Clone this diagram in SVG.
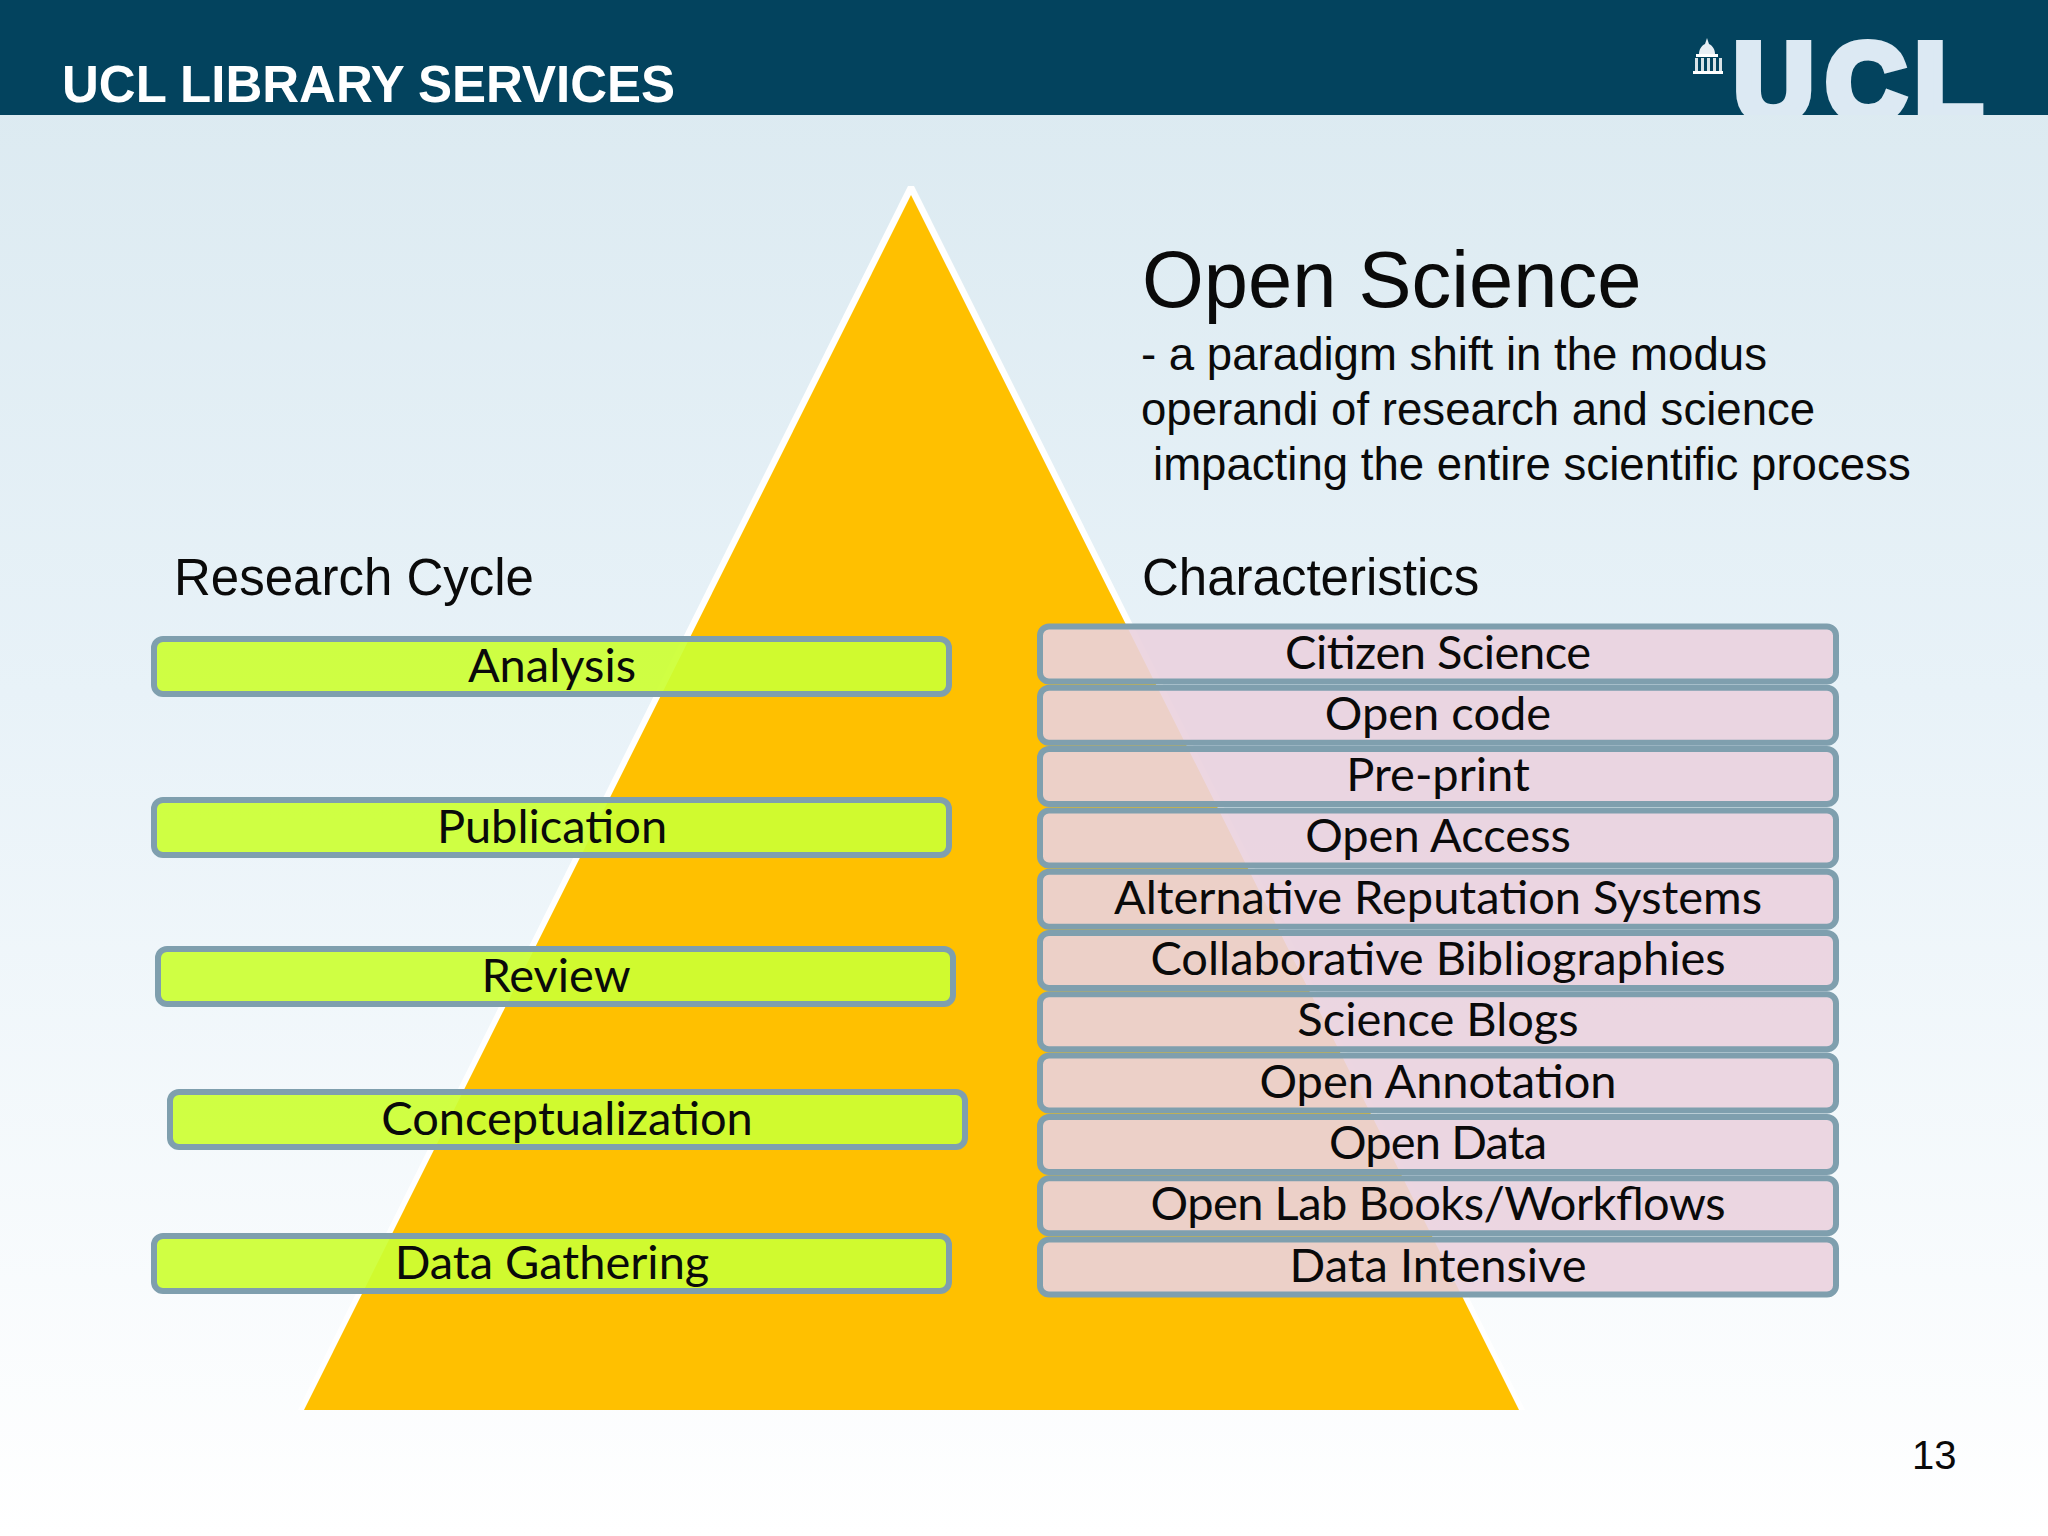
<svg xmlns="http://www.w3.org/2000/svg" width="2048" height="1536" viewBox="0 0 2048 1536">
<style>
.a{font-family:"Liberation Sans",Arial,sans-serif;fill:#0a0a0a}
.l{font-family:Lato,"Noto Sans",sans-serif;font-size:47px;fill:#0a0a0a;text-anchor:middle}
.g{fill:#ccff33;fill-opacity:.92;stroke:#7f9fae;stroke-width:6}
.p{fill:#ead1de;fill-opacity:.9;stroke:#7f9fae;stroke-width:6}
</style>
<defs>
<linearGradient id="bg" x1="0" y1="0" x2="0" y2="1"><stop offset="0" stop-color="#dae9f0"/><stop offset=".45" stop-color="#e8f2f8"/><stop offset="1" stop-color="#ffffff"/></linearGradient>
<clipPath id="hd"><rect x="0" y="0" width="2048" height="115"/></clipPath>
</defs>
<rect id="background" width="2048" height="1536" fill="url(#bg)"/>
<g id="header">
<rect width="2048" height="115" fill="#03435e"/>
<text class="a" x="62" y="102" font-size="51" font-weight="700" style="fill:#ffffff">UCL LIBRARY SERVICES</text>
<g id="logo" fill="#ffffff">
<path d="M1707 38l2 6c4 2 6 6 6 10h-16c0-4 2-8 6-10z" fill="#e8eff5"/>
<path d="M1696 54h22v3h-22z"/>
<path d="M1695 58h3v13h-3zM1701 58h3v13h-3zM1707 58h3v13h-3zM1713 58h3v13h-3zM1719 58h3v13h-3z" opacity=".85"/>
<path d="M1693 71h30v3h-30z"/>
</g>
<g clip-path="url(#hd)"><text x="1734 1826 1915" y="120" font-family="Liberation Sans,Arial,sans-serif" font-size="110" font-weight="700" fill="#dce9f3" stroke="#dce9f3" stroke-width="9" stroke-linejoin="miter">UCL</text></g>
</g>
<g id="pyramid"><polygon points="908,186 914,186 1525,1410 298,1410" fill="#ffffff"/><path d="M911 195L1519 1410H304Z" fill="#ffc000"/></g>
<g id="titles">
<text class="a" x="1142" y="307" font-size="79.5">Open Science</text>
<text class="a" x="1141" y="370" font-size="45.6">- a paradigm shift in the modus</text>
<text class="a" x="1141" y="425" font-size="45.6">operandi of research and science</text>
<text class="a" x="1153" y="480" font-size="45.6"> impacting the entire scientific process</text>
<text class="a" x="174" y="595" font-size="51">Research Cycle</text>
<text class="a" x="1142" y="595" font-size="51">Characteristics</text>
<text class="a" x="1912" y="1469" font-size="40">13</text>
</g>
<g id="connectors"/>
<g id="n-analysis"><rect class="g" x="154" y="639" width="795" height="55" rx="9"/><text class="l" x="552" y="681.5">Analysis</text></g>
<g id="n-publication"><rect class="g" x="154" y="800" width="795" height="55" rx="9"/><text class="l" x="552" y="842.5">Publication</text></g>
<g id="n-review"><rect class="g" x="158" y="949" width="795" height="55" rx="9"/><text class="l" x="556" y="991.5">Review</text></g>
<g id="n-conceptualization"><rect class="g" x="170" y="1092" width="795" height="55" rx="9"/><text class="l" x="567" y="1134.5">Conceptualization</text></g>
<g id="n-data-gathering"><rect class="g" x="154" y="1236" width="795" height="55" rx="9"/><text class="l" x="552" y="1278.5">Data Gathering</text></g>
<g id="n-citizen"><rect class="p" x="1040" y="626.5" width="796" height="55" rx="9"/><text class="l" x="1438" y="668.5" textLength="306">Citizen Science</text></g>
<g id="n-code"><rect class="p" x="1040" y="687.8" width="796" height="55" rx="9"/><text class="l" x="1438" y="729.8">Open code</text></g>
<g id="n-preprint"><rect class="p" x="1040" y="749.1" width="796" height="55" rx="9"/><text class="l" x="1438" y="791.1">Pre-print</text></g>
<g id="n-access"><rect class="p" x="1040" y="810.4" width="796" height="55" rx="9"/><text class="l" x="1438" y="852.4">Open Access</text></g>
<g id="n-reputation"><rect class="p" x="1040" y="871.7" width="796" height="55" rx="9"/><text class="l" x="1438" y="913.7">Alternative Reputation Systems</text></g>
<g id="n-bibliographies"><rect class="p" x="1040" y="933" width="796" height="55" rx="9"/><text class="l" x="1438" y="975">Collaborative Bibliographies</text></g>
<g id="n-blogs"><rect class="p" x="1040" y="994.3" width="796" height="55" rx="9"/><text class="l" x="1438" y="1036.3">Science Blogs</text></g>
<g id="n-annotation"><rect class="p" x="1040" y="1055.6" width="796" height="55" rx="9"/><text class="l" x="1438" y="1097.6">Open Annotation</text></g>
<g id="n-data"><rect class="p" x="1040" y="1116.9" width="796" height="55" rx="9"/><text class="l" x="1438" y="1158.9" textLength="218">Open Data</text></g>
<g id="n-lab"><rect class="p" x="1040" y="1178.2" width="796" height="55" rx="9"/><text class="l" x="1438" y="1220.2" textLength="575">Open Lab Books/Workflows</text></g>
<g id="n-intensive"><rect class="p" x="1040" y="1239.5" width="796" height="55" rx="9"/><text class="l" x="1438" y="1281.5">Data Intensive</text></g>
</svg>
